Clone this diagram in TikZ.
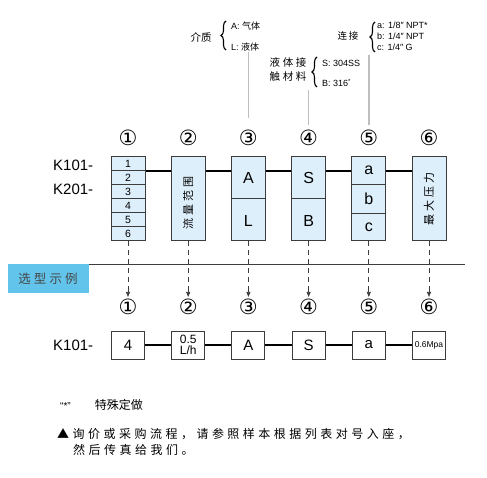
\documentclass[tikz,border=0pt]{standalone}
\usepackage{fontspec}
\setmainfont{Liberation Sans}
\newfontfamily\cjk{Noto Sans CJK SC}
\newfontfamily\cjkwide[LetterSpace=25]{Noto Sans CJK SC}
\newfontfamily\cjkwider[LetterSpace=29]{Noto Sans CJK SC}
\newfontfamily\circfont{DejaVu Sans}
\usetikzlibrary{arrows.meta,decorations.pathreplacing}
\definecolor{cellblue}{RGB}{221,239,251}
\definecolor{tagblue}{RGB}{98,196,234}
\definecolor{leadgray}{RGB}{190,190,190}
\definecolor{framegray}{RGB}{60,60,60}
\definecolor{tagtext}{RGB}{70,70,70}
\tikzset{
  codebox/.style={draw=framegray,line width=1pt,fill=cellblue,minimum width=34pt,minimum height=84pt,inner sep=0pt},
  pickbox/.style={draw=framegray,line width=1pt,fill=white,minimum width=33pt,minimum height=28pt,inner sep=0pt,font=\fontsize{15}{15}\selectfont},
  link/.style={line width=2pt},
  lead/.style={leadgray,line width=1.6pt},
  circnum/.style={font=\circfont\fontsize{21}{21}\selectfont,inner sep=0pt},
  curly/.style={decorate,decoration={brace,amplitude=5pt},line width=1.1pt},
  note/.style={font=\fontsize{9}{10}\selectfont,inner sep=0pt,anchor=west},
  letter/.style={font=\fontsize{16}{16}\selectfont,inner sep=0pt},
  dashdown/.style={framegray,line width=0.7pt,dash pattern=on 5pt off 4pt,-{Triangle[length=5pt,width=4pt]}},
}
\begin{document}
\begin{tikzpicture}[x=1pt,y=-1pt]
\useasboundingbox (0,0) rectangle (487,478);

% code positions
\foreach \i/\cx/\num in {1/128/①,2/188.2/②,3/248.4/③,4/308.6/④,5/368.8/⑤,6/429/⑥}{
  \node[circnum] (n\i) at (\cx,138) {\num};
  \node[codebox] (b\i) at (\cx,199) {};
  \node[circnum] (m\i) at (\cx,307) {\num};
}

% model
\node[font=\fontsize{15}{15}\selectfont,anchor=west,inner sep=0pt] (k1) at (53,165) {K101-};
\node[font=\fontsize{15}{15}\selectfont,anchor=west,inner sep=0pt] (k2) at (53,189) {K201-};

% box contents
\foreach \k in {1,...,6}
  \node[font=\fontsize{10.5}{11}\selectfont,inner sep=0pt] at ([yshift={-(\k-0.5)*14pt}]b1.north) {\k};
\foreach \k in {1,...,5}
  \draw[framegray,line width=1pt] ([yshift={-\k*14pt}]b1.north west) -- ([yshift={-\k*14pt}]b1.north east);
\node[rotate=90,font=\cjkwide\fontsize{11}{11}\selectfont,inner sep=0pt] at ([yshift=-4pt]b2.center) {流量范围};
\draw[framegray,line width=1pt] (b3.west) -- (b3.east);
\node[letter] at ([yshift=-21pt]b3.north) {A};
\node[letter] at ([yshift=21pt]b3.south) {L};
\draw[framegray,line width=1pt] (b4.west) -- (b4.east);
\node[letter] at ([yshift=-21pt]b4.north) {S};
\node[letter] at ([yshift=21pt]b4.south) {B};
\draw[framegray,line width=1pt] ([yshift=-28pt]b5.north west) -- ([yshift=-28pt]b5.north east);
\draw[framegray,line width=1pt] ([yshift=28pt]b5.south west) -- ([yshift=28pt]b5.south east);
\node[letter] at ([yshift=-14pt]b5.north) {a};
\node[letter] at (b5.center) {b};
\node[letter] at ([yshift=14pt]b5.south) {c};
\node[rotate=90,font=\cjkwide\fontsize{11}{11}\selectfont,inner sep=0pt] at (b6.center) {最大压力};

\foreach \i/\j in {1/2,2/3,3/4,4/5,5/6}
  \draw[link] ([yshift=-15pt]b\i.north east) -- ([yshift=-15pt]b\j.north west);

% options
\node[font=\cjk\fontsize{10.5}{11}\selectfont,inner sep=0pt] (medium) at (201,37) {介质};
\draw[curly] (226,50) -- (226,21);
\node[note] (optA) at (231,26) {A: {\cjk 气体}};
\node[note] (optL) at (231,47) {L: {\cjk 液体}};
\draw[lead] ([yshift=-1pt]optL.south -| n3.north) -- ([yshift=12pt]n3.north);

\node[font=\cjkwide\fontsize{10.5}{14}\selectfont,align=center,inner sep=0pt] (wet) at (288,70) {液体接\\触材料};
\draw[curly] (317,87) -- (317,57);
\node[note] (optS) at (322,63) {S: 304SS};
\node[note] (optB) at (322,83) {B: 316\textsuperscript{*}};
\coordinate (wetfoot) at (308.6,90);
\draw[lead] (wetfoot) -- ([yshift=5pt]n4.north);

\node[font=\cjk\fontsize{9.5}{10}\selectfont,inner sep=0pt] (port) at (348,36) {连\,接};
\draw[curly] (375,52) -- (375,22);
\node[note] (opta) at (377,25) {a: 1/8″ NPT*};
\node[note] (optb) at (377,36) {b: 1/4″ NPT};
\node[note] (optc) at (377,47) {c: 1/4″ G};
\coordinate (portfoot) at (368.8,55);
\draw[lead] (portfoot) -- ([yshift=5pt]n5.north);

% example
\node[fill=tagblue,minimum width=81pt,minimum height=28.5pt,anchor=north west,inner sep=0pt,
  font=\cjkwide\fontsize{12.5}{13}\selectfont,text=tagtext] (tag) at (7.3,264.3) {选型示例};
\draw[framegray,line width=1pt] (tag.north east) -- (465,264.3);
\foreach \i in {1,...,6}
  \draw[dashdown] (b\i.south) -- ([yshift=2pt]m\i.north);

\node[font=\fontsize{15}{15}\selectfont,anchor=west,inner sep=0pt] (k3) at (53,345) {K101-};
\node[pickbox] (s1) at (128,345) {4};
\node[pickbox,font=\fontsize{12}{11.5}\selectfont,align=center] (s2) at (188.2,345) {0.5\\L/h};
\node[pickbox] (s3) at (248.4,345) {A};
\node[pickbox] (s4) at (308.6,345) {S};
\node[pickbox] (s5) at (368.8,345) {a};
\node[pickbox,font=\fontsize{8.5}{9}\selectfont] (s6) at (429,345) {0.6Mpa};
\foreach \i/\j in {1/2,2/3,3/4,4/5,5/6}
  \draw[link] (s\i.east) -- (s\j.west);

% notes
\node[anchor=west,inner sep=0pt] (special) at (60,405) {{\fontsize{10}{10}\selectfont “*”}\hspace{24pt}{\cjk\fontsize{12}{12}\selectfont 特殊定做}};
\node[anchor=west,inner sep=0pt,font=\cjkwider\fontsize{12}{12}\selectfont] (howto) at (57,434) {▲询价或采购流程，请参照样本根据列表对号入座，};
\node[anchor=west,inner sep=0pt,font=\cjkwider\fontsize{12}{12}\selectfont] (howto2) at (73,450) {然后传真给我们。};
\end{tikzpicture}
\end{document}
